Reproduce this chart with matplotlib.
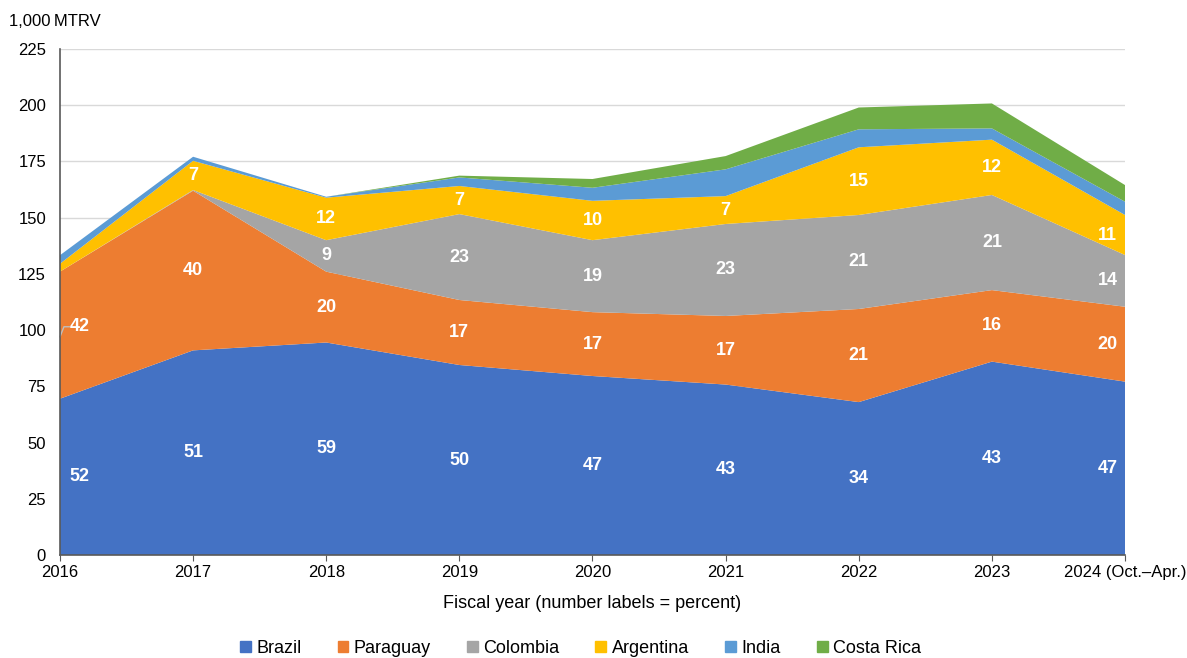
import numpy as np
import matplotlib.pyplot as plt
from matplotlib.patches import Patch

plt.rcParams['font.family'] = ['Liberation Sans', 'DejaVu Sans']

years = ['2016', '2017', '2018', '2019', '2020', '2021', '2022', '2023', '2024 (Oct.\u2013Apr.)']
countries = ['Brazil', 'Paraguay', 'Colombia', 'Argentina', 'India', 'Costa Rica']
colors = ['#4472C4', '#ED7D31', '#A5A5A5', '#FFC000', '#5B9BD5', '#70AD47']

# 1,000 MTRV by fiscal year
brazil = [69.5, 91.0, 94.5, 84.5, 79.6, 75.8, 68.0, 86.0, 77.1]
paraguay = [56.5, 71.0, 31.5, 28.9, 28.4, 30.5, 41.4, 31.8, 33.3]
colombia = [0.0, 0.3, 14.0, 38.2, 32.0, 40.9, 41.8, 42.3, 23.0]
argentina = [3.5, 13.0, 18.9, 12.5, 17.5, 12.4, 30.1, 24.6, 17.8]
india = [3.8, 1.8, 0.4, 3.8, 5.8, 11.9, 8.0, 5.0, 5.9]
costa_rica = [0.0, 0.0, 0.0, 0.8, 3.9, 5.9, 9.7, 11.1, 7.4]

# percent shares printed on the areas (None = not labelled)
pct_brazil = [52, 51, 59, 50, 47, 43, 34, 43, 47]
pct_paraguay = [42, 40, 20, 17, 17, 17, 21, 16, 20]
pct_colombia = [None, None, 9, 23, 19, 23, 21, 21, 14]
pct_argentina = [None, 7, 12, 7, 10, 7, 15, 12, 11]

series = np.array([brazil, paraguay, colombia, argentina, india, costa_rica])
pcts = [pct_brazil, pct_paraguay, pct_colombia, pct_argentina]
x = np.arange(len(years))

fig = plt.figure(figsize=(11.87, 6.58), dpi=100)
ax = fig.add_axes([0.0505, 0.1565, 0.8973, 0.769])

ax.stackplot(x, series, colors=colors, linewidth=0)

tops = np.cumsum(series, axis=0)
bottoms = tops - series
for i, p in enumerate(pcts):
    for j, v in enumerate(p):
        if v is None:
            continue
        xp = x[j]
        if j == 0:
            xp += 0.15
        elif j == len(x) - 1:
            xp -= 0.13
        yp = (tops[i, j] + bottoms[i, j]) / 2
        if i == 1 and j == 0:
            yp += 4
        ax.text(xp, yp, str(v), color='white', fontsize=13, fontweight='bold',
                ha='center', va='center')

# leader line for the first Paraguay label
ax.plot([0.0, 0.03, 0.07], [97, 101.5, 101.5], color='#BFBFBF', lw=1, clip_on=False)

ax.set_xlim(0, len(x) - 1)
ax.set_ylim(0, 225)
ax.set_yticks(np.arange(0, 226, 25))
ax.set_xticks(x)
ax.set_xticklabels(years, fontsize=12)
ax.tick_params(axis='y', length=0, labelsize=12, pad=10)
ax.tick_params(axis='x', length=4, color='#595959', labelsize=12, pad=3)
ax.grid(axis='y', color='#D9D9D9', lw=1)
ax.set_axisbelow(True)
for s in ['top', 'right']:
    ax.spines[s].set_visible(False)
for s in ['left', 'bottom']:
    ax.spines[s].set_color('#595959')
    ax.spines[s].set_linewidth(1.2)
    ax.spines[s].set_zorder(5)

ax.set_xlabel('Fiscal year (number labels = percent)', fontsize=13, labelpad=11)
fig.text(0.008, 0.968, '1,000\u2009MTRV', fontsize=12, ha='left', va='center')

handles = [Patch(color=c, label=n) for c, n in zip(colors, countries)]
fig.legend(handles=handles, loc='center', bbox_to_anchor=(0.489, 0.015), ncol=6,
           frameon=False, fontsize=13, handlelength=0.6, handleheight=0.6,
           handletextpad=0.3, columnspacing=2.0)

fig.savefig('out.png', dpi=100)
